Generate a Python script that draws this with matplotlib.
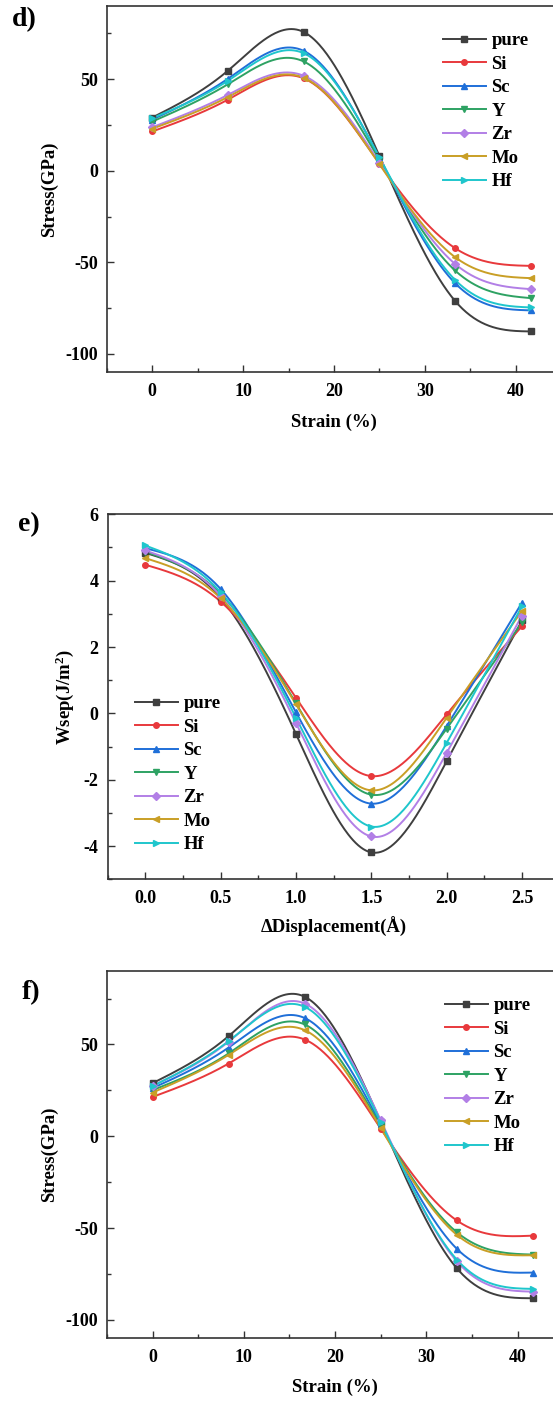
import numpy as np
import matplotlib
matplotlib.use('Agg')
import matplotlib.pyplot as plt
from matplotlib.lines import Line2D
from matplotlib.ticker import MultipleLocator, FormatStrFormatter

plt.rcParams['font.family'] = ['Liberation Serif', 'DejaVu Serif']
plt.rcParams['font.weight'] = 'bold'
plt.rcParams['axes.unicode_minus'] = False
plt.rcParams['mathtext.fontset'] = 'custom'
plt.rcParams['mathtext.rm'] = 'Liberation Serif:bold'
plt.rcParams['mathtext.bf'] = 'Liberation Serif:bold'
plt.rcParams['mathtext.it'] = 'Liberation Serif:bold'

# ---------------- data ----------------
names = ['pure', 'Si', 'Sc', 'Y', 'Zr', 'Mo', 'Hf']
colors = ['#3f3f3f', '#e8393c', '#1f6fd8', '#2ea263', '#b27fe6', '#c99f26', '#1fc6cc']
markers = ['s', 'o', '^', 'v', 'D', '<', '>']

strain = [0.0, 8.33, 16.67, 25.0, 33.33, 41.67]
displacement = [0.0, 0.5, 1.0, 1.5, 2.0, 2.5]

stress_d = {
    'pure': [29.1, 54.7, 75.8, 8.2, -71.0, -87.7],
    'Si':   [21.5, 38.9, 50.5, 4.0, -42.2, -51.9],
    'Sc':   [28.0, 50.3, 65.5, 7.0, -61.3, -76.2],
    'Y':    [26.9, 47.3, 59.7, 6.0, -54.4, -69.5],
    'Zr':   [23.8, 41.5, 51.9, 4.5, -50.8, -64.6],
    'Mo':   [23.0, 40.3, 50.8, 3.6, -47.1, -58.6],
    'Hf':   [28.8, 49.2, 64.2, 7.5, -59.5, -74.6],
}

wsep_e = {
    'pure': [4.84, 3.48, -0.62, -4.19, -1.44, 2.80],
    'Si':   [4.48, 3.37, 0.47, -1.89, -0.03, 2.63],
    'Sc':   [4.98, 3.75, 0.03, -2.72, -0.38, 3.34],
    'Y':    [4.87, 3.60, 0.30, -2.45, -0.46, 2.74],
    'Zr':   [4.91, 3.54, -0.29, -3.71, -1.19, 2.95],
    'Mo':   [4.68, 3.47, 0.27, -2.32, -0.13, 3.09],
    'Hf':   [5.06, 3.65, -0.13, -3.41, -0.89, 3.23],
}

stress_f = {
    'pure': [28.9, 54.5, 76.0, 8.0, -71.8, -88.2],
    'Si':   [21.4, 39.6, 52.7, 4.2, -45.8, -54.1],
    'Sc':   [26.2, 48.3, 64.4, 6.5, -61.2, -74.2],
    'Y':    [25.1, 45.1, 60.9, 5.5, -52.2, -64.4],
    'Zr':   [27.5, 51.5, 72.3, 8.7, -68.0, -84.6],
    'Mo':   [23.8, 44.3, 57.8, 4.5, -53.6, -64.8],
    'Hf':   [27.3, 51.8, 70.5, 7.8, -67.1, -83.1],
}


def natural_spline(x, y, n=300):
    x = np.asarray(x, float)
    y = np.asarray(y, float)
    m = len(x)
    h = np.diff(x)
    A = np.zeros((m, m))
    b = np.zeros(m)
    A[0, 0] = A[-1, -1] = 1.0
    for i in range(1, m - 1):
        A[i, i - 1] = h[i - 1]
        A[i, i] = 2 * (h[i - 1] + h[i])
        A[i, i + 1] = h[i]
        b[i] = 3 * ((y[i + 1] - y[i]) / h[i] - (y[i] - y[i - 1]) / h[i - 1])
    c = np.linalg.solve(A, b)
    bc = (y[1:] - y[:-1]) / h - h * (2 * c[:-1] + c[1:]) / 3
    dc = (c[1:] - c[:-1]) / (3 * h)
    xs = np.linspace(x[0], x[-1], n)
    idx = np.clip(np.searchsorted(x, xs) - 1, 0, m - 2)
    dx = xs - x[idx]
    ys = y[idx] + bc[idx] * dx + c[idx] * dx ** 2 + dc[idx] * dx ** 3
    return xs, ys


W, H = 553, 1403
fig = plt.figure(figsize=(W / 100, H / 100), dpi=100)


def px_axes(left, right, top, bottom):
    return fig.add_axes([left / W, 1 - bottom / H, (right - left) / W, (bottom - top) / H])


spine_c = '#333333'
TICK_FS = 13
LABEL_FS = 13.5


def style(ax):
    for s in ax.spines.values():
        s.set_color(spine_c)
        s.set_linewidth(1.2)
    ax.tick_params(which='both', direction='in', colors=spine_c, labelcolor='black',
                   labelsize=TICK_FS, width=1.0)
    ax.tick_params(which='major', length=5)
    ax.tick_params(which='minor', length=3)
    ax.tick_params(axis='x', which='major', pad=8)
    ax.tick_params(axis='y', which='major', pad=6.5)
    for lab in ax.get_xticklabels() + ax.get_yticklabels():
        lab.set_fontweight('bold')


def draw(ax, xv, data):
    for nm, c, mk in zip(names, colors, markers):
        xs, ys = natural_spline(xv, data[nm])
        ax.plot(xs, ys, color=c, lw=1.4, zorder=2)
        ax.plot(xv, data[nm], ls='none', marker=mk, color=c, ms=4.0, zorder=3)


def legend(ax, x_px, y_px):
    handles = [Line2D([], [], color=c, marker=mk, ms=4.0, lw=1.4)
               for c, mk in zip(colors, markers)]
    ax.legend(handles, names, loc='upper left', bbox_to_anchor=(x_px / W, 1 - y_px / H),
              bbox_transform=fig.transFigure, frameon=False, borderpad=0, borderaxespad=0,
              handlelength=2.28, handletextpad=0.3, labelspacing=0.34,
              prop={'family': 'Liberation Serif', 'weight': 'bold', 'size': 13.5})


def labels(ax, xl, yl, ylx, xly):
    ax.set_xlabel(xl, fontsize=LABEL_FS, fontweight='bold')
    ax.set_ylabel(yl, fontsize=LABEL_FS, fontweight='bold')
    ax.yaxis.set_label_coords(ylx, 0.5)
    ax.xaxis.set_label_coords(0.5, xly)


# ---------- panel d ----------
ax1 = px_axes(106.9, 561.0, 6.0, 372.3)
draw(ax1, strain, stress_d)
ax1.set_xlim(-5, 45)
ax1.set_ylim(-110, 90)
ax1.xaxis.set_major_locator(MultipleLocator(10))
ax1.xaxis.set_minor_locator(MultipleLocator(5))
ax1.yaxis.set_major_locator(MultipleLocator(50))
ax1.yaxis.set_minor_locator(MultipleLocator(25))
style(ax1)
labels(ax1, 'Strain (%)', 'Stress(GPa)', -0.108, -0.112)
legend(ax1, 443, 32)
fig.text(24 / W, 1 - 20 / H, 'd)', fontsize=20, fontweight='bold', va='center', ha='center')

# ---------- panel e ----------
ax2 = px_axes(107.6, 559.7, 514.3, 879.3)
draw(ax2, displacement, wsep_e)
ax2.set_xlim(-0.25, 2.75)
ax2.set_ylim(-5, 6)
ax2.xaxis.set_major_locator(MultipleLocator(0.5))
ax2.xaxis.set_minor_locator(MultipleLocator(0.25))
ax2.yaxis.set_major_locator(MultipleLocator(2))
ax2.yaxis.set_minor_locator(MultipleLocator(1))
ax2.xaxis.set_major_formatter(FormatStrFormatter('%.1f'))
style(ax2)
labels(ax2, 'ΔDisplacement(Å)', r'Wsep(J/m$^{2}$)', -0.070, -0.103)
legend(ax2, 135, 695)
fig.text(29 / W, 1 - 525 / H, 'e)', fontsize=20, fontweight='bold', va='center', ha='center')

# ---------- panel f ----------
ax3 = px_axes(106.9, 563.2, 971.0, 1338.3)
draw(ax3, strain, stress_f)
ax3.set_xlim(-5, 45)
ax3.set_ylim(-110, 90)
ax3.xaxis.set_major_locator(MultipleLocator(10))
ax3.xaxis.set_minor_locator(MultipleLocator(5))
ax3.yaxis.set_major_locator(MultipleLocator(50))
ax3.yaxis.set_minor_locator(MultipleLocator(25))
style(ax3)
labels(ax3, 'Strain (%)', 'Stress(GPa)', -0.107, -0.111)
legend(ax3, 445, 997)
fig.text(31 / W, 1 - 993 / H, 'f)', fontsize=20, fontweight='bold', va='center', ha='center')

fig.savefig('out.png', dpi=100)
